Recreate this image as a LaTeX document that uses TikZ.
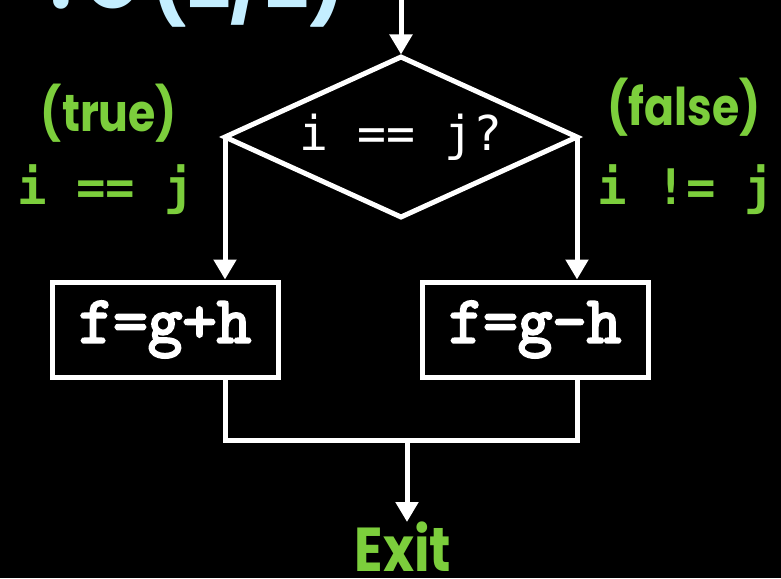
\documentclass[tikz,border=0pt]{standalone}
\usepackage{fontspec}
\setmainfont{Poppins}
\newfontfamily\lblfont[FakeStretch=0.85]{Poppins}
\newfontfamily\monofont{DejaVu Sans Mono}
\newfontfamily\codefont[FakeBold=3.5]{Latin Modern Mono}
\usetikzlibrary{shapes.geometric,arrows.meta}
\definecolor{lblgreen}{RGB}{124,206,60}
\definecolor{titleblue}{RGB}{196,238,255}
\tikzset{
  flow/.style={draw=white, line width=5pt},
  arr/.style={flow, -{Triangle[width=22pt,length=20pt]}},
  stepbox/.style={flow, rectangle, minimum width=226pt, minimum height=95pt, inner sep=0pt, outer sep=0pt,
    text=white, font=\codefont\fontsize{67}{67}\selectfont},
  decision/.style={flow, diamond, aspect=2.2, minimum width=352pt, minimum height=160pt, inner sep=0pt, outer sep=0pt,
    text=white, font=\monofont\fontsize{48}{48}\selectfont},
  greenlbl/.style={text=lblgreen, inner sep=0pt, anchor=base, font=\lblfont\bfseries\fontsize{52}{52}\selectfont},
  greencode/.style={text=lblgreen, inner sep=0pt, anchor=base, font=\monofont\bfseries\fontsize{49}{49}\selectfont},
}
\begin{document}
\begin{tikzpicture}[x=1pt,y=-1pt]
\clip (0,0) rectangle (781,578);
\fill[black] (0,0) rectangle (781,578);
\useasboundingbox (0,0) rectangle (781,578);
% title (cut off at top)
\node[text=titleblue, inner sep=0pt, anchor=base east, font=\lblfont\bfseries\fontsize{90}{90}\selectfont] (title) at (346,9) {:\hspace{0.12em}C\hspace{0.1em}(2/2)};
% nodes
\node[decision] (dec) at (401,137) {i == j?};
\node[stepbox] (lbox) at (165,329.5) {f=g+h};
\node[stepbox] (rbox) at (535,329.5) {f=g-h};
\node[text=lblgreen, inner sep=0pt, anchor=base, font=\lblfont\bfseries\fontsize{62}{62}\selectfont] (exit) at (403,571) {Exit};
\node[greenlbl] (truelbl) at (109,131) {(true)};
\node[greencode] (truecode) at (106,204) {i == j};
\node[greenlbl] (falselbl) at (684,125) {(false)};
\node[greencode] (falsecode) at (686,204) {i != j};
% connectors
\coordinate (entry) at (401,0);
\coordinate (jl) at (225,440);
\coordinate (jr) at (577,440);
\coordinate (jm) at (407,440);
\coordinate (exittip) at (407,522);
\draw[arr] (entry) -- ([yshift=2.5pt]dec.north);
\draw[arr] (dec.west) -- ([yshift=2.5pt]dec.west |- lbox.north);
\draw[arr] (dec.east) -- ([yshift=2.5pt]dec.east |- rbox.north);
\draw[flow] (lbox.south -| jl) -- (jl) -- (jr) -- (rbox.south -| jr);
\draw[arr] (jm) -- (exittip);
\end{tikzpicture}
\end{document}
